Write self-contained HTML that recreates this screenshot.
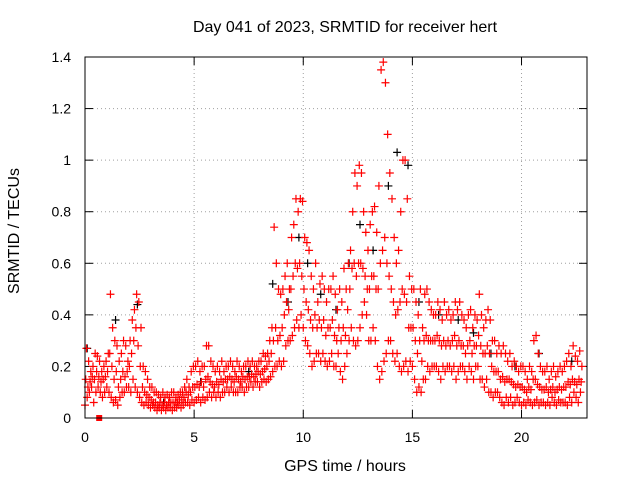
<!DOCTYPE html>
<html><head><meta charset="utf-8">
<style>
body{margin:0;background:#fff;}
svg{display:block;font-family:"Liberation Sans",sans-serif;}
</style></head>
<body>
<svg id="chart" width="640" height="480" viewBox="0 0 640 480" xmlns="http://www.w3.org/2000/svg">
<rect width="640" height="480" fill="#fff"/>
<text x="345" y="32" font-size="16" text-anchor="middle">Day 041 of 2023, SRMTID for receiver hert</text>
<text x="345" y="471" font-size="16" text-anchor="middle">GPS time / hours</text>
<text transform="translate(19,231) rotate(-90)" font-size="16" text-anchor="middle">SRMTID / TECUs</text>
<g id="grid"></g>
<g id="ticks"></g>
<g id="marks"></g>
<rect x="85" y="57" width="502" height="361" fill="none" stroke="#000" stroke-width="1"/>
</svg>
<script>
const xTicks=[0,5,10,15,20];
const yTicks=[0,0.2,0.4,0.6,0.8,1,1.2,1.4];
const yTickLabels=["0","0.2","0.4","0.6","0.8","1","1.2","1.4"];
const binStart=0, binStep=0.1;
const hiVals=[.27,.22,.18,.2,.25,.24,.22,.18,.2,.22,
.25,.48,.35,.3,.28,.22,.25,.3,.28,.22,
.3,.38,.42,.48,.45,.35,.2,.18,.15,.12,
.12,.1,.1,.09,.08,.1,.08,.09,.08,.1,
.1,.08,.09,.1,.1,.12,.15,.12,.18,.2,
.2,.22,.18,.2,.2,.28,.28,.22,.2,.18,
.2,.18,.22,.18,.2,.2,.22,.2,.18,.22,
.2,.18,.2,.2,.22,.2,.22,.2,.2,.22,
.22,.25,.24,.25,.3,.35,.74,.6,.5,.48,
.5,.55,.6,.5,.7,.75,.85,.8,.85,.84,
.7,.68,.65,.55,.5,.6,.45,.52,.55,.5,
.45,.5,.5,.55,.48,.42,.5,.45,.58,.5,
.6,.65,.8,.95,.9,.98,.95,.8,.72,.65,
.75,.8,.82,.72,.9,1.35,1.38,1.3,1.1,.95,
.85,.7,.6,.65,.8,1.0,1.0,.85,.55,.5,
.5,.45,.4,.5,.35,.48,.5,.45,.42,.4,
.4,.45,.42,.38,.45,.4,.42,.38,.4,.45,
.42,.45,.4,.38,.35,.4,.42,.35,.4,.38,
.48,.4,.35,.38,.42,.38,.3,.3,.25,.28,
.25,.28,.25,.22,.25,.2,.22,.2,.18,.2,
.2,.18,.15,.2,.18,.3,.32,.25,.2,.18,
.18,.2,.15,.18,.2,.16,.18,.2,.18,.2,
.22,.25,.2,.28,.24,.22,.26,.2];
const midVals=[.15,.12,.14,.16,.15,.18,.16,.14,.15,.16,
.18,.25,.2,.15,.18,.12,.15,.18,.16,.18,
.2,.25,.3,.35,.28,.2,.12,.1,.09,.08,
.07,.06,.06,.05,.06,.05,.06,.05,.06,.06,
.06,.06,.06,.07,.07,.08,.1,.09,.1,.12,
.12,.13,.12,.14,.12,.15,.16,.14,.13,.12,
.14,.13,.15,.14,.15,.15,.16,.15,.14,.16,
.15,.14,.16,.15,.16,.16,.17,.16,.17,.18,
.17,.18,.19,.2,.22,.25,.3,.35,.3,.32,
.35,.4,.45,.42,.5,.55,.6,.58,.6,.55,
.5,.45,.42,.38,.35,.4,.35,.38,.35,.38,
.32,.35,.35,.38,.32,.3,.35,.3,.35,.32,
.42,.5,.58,.6,.55,.6,.6,.58,.55,.5,
.5,.55,.55,.5,.5,.6,.65,.7,.6,.55,
.5,.45,.4,.42,.45,.5,.48,.45,.35,.35,
.35,.3,.25,.3,.22,.3,.32,.3,.3,.3,
.3,.32,.3,.28,.3,.28,.3,.28,.3,.32,
.28,.3,.28,.28,.25,.28,.3,.25,.28,.28,
.32,.28,.25,.25,.28,.25,.2,.18,.18,.18,
.15,.16,.14,.15,.15,.14,.13,.12,.13,.12,
.12,.11,.1,.12,.11,.15,.15,.13,.12,.11,
.11,.12,.1,.11,.12,.1,.11,.12,.11,.12,
.12,.14,.13,.15,.14,.13,.15,.14];
const loVals=[.05,.08,.1,.12,.06,.1,.12,.1,.08,.1,
.12,.1,.08,.06,.07,.05,.08,.1,.1,.12,
.12,.1,.15,.12,.1,.08,.06,.05,.06,.05,
.04,.05,.04,.03,.04,.03,.04,.03,.04,.04,
.03,.04,.04,.05,.04,.05,.06,.06,.05,.07,
.06,.07,.08,.06,.08,.07,.08,.1,.08,.1,
.08,.1,.08,.1,.1,.12,.1,.12,.1,.1,
.1,.12,.12,.1,.12,.12,.14,.12,.14,.14,
.12,.14,.15,.14,.15,.16,.18,.2,.2,.22,
.2,.22,.28,.3,.3,.32,.35,.38,.35,.4,
.35,.3,.28,.25,.2,.22,.25,.25,.22,.25,
.22,.2,.22,.25,.2,.2,.25,.18,.15,.2,
.25,.3,.35,.3,.28,.3,.35,.4,.45,.4,
.3,.3,.35,.3,.2,.15,.18,.22,.25,.3,
.3,.25,.22,.25,.2,.18,.2,.22,.18,.22,
.2,.15,.1,.12,.1,.15,.15,.2,.18,.2,
.2,.2,.18,.15,.2,.18,.2,.2,.18,.2,
.15,.18,.2,.2,.18,.15,.2,.18,.15,.2,
.2,.15,.15,.12,.15,.1,.1,.08,.1,.1,
.08,.06,.05,.08,.06,.08,.05,.06,.08,.06,
.05,.06,.05,.07,.06,.05,.06,.07,.05,.06,
.06,.05,.06,.05,.08,.06,.05,.07,.06,.06,
.06,.05,.08,.06,.1,.08,.06,.1];
const blackTimes=[0.1,1.4,2.4,8.6,9.3,9.8,10.2,10.8,11.5,12.1,12.6,13.2,13.9,14.3,14.8,15.3,16.2,17.1,17.8,18.6,19.7,20.8,22.3,5.3,7.5,3.6];
const blackVals=[0.27,0.38,0.44,0.52,0.45,0.7,0.6,0.48,0.42,0.6,0.75,0.65,0.9,1.03,0.98,0.45,0.4,0.38,0.33,0.25,0.2,0.25,0.22,0.14,0.18,0.06];
const squareTimes=[0.65];
const squareVals=[0];

const X0=85,X1=587,Y0=418,Y1=57,XMAX=23,YMAX=1.4;
const xs=t=>X0+(t/XMAX)*(X1-X0);
const ys=v=>Y0-(v/YMAX)*(Y0-Y1);
const NS="http://www.w3.org/2000/svg";
const grid=document.getElementById('grid'),ticks=document.getElementById('ticks'),marks=document.getElementById('marks');
function mk(tag,parent){const e=document.createElementNS(NS,tag);parent.appendChild(e);return e;}

yTicks.forEach((v,i)=>{
  const y=ys(v);
  if(i>0&&i<yTicks.length-1){const g=mk('line',grid);
    
    
    g.setAttribute('x1',X0);g.setAttribute('x2',X1);g.setAttribute('y1',y);g.setAttribute('y2',y);
    g.setAttribute('stroke','#a0a0a0');g.setAttribute('stroke-dasharray','1,3');}
  const t=mk('line',ticks);
  
  
  t.setAttribute('x1',X0);t.setAttribute('x2',X0+8);t.setAttribute('y1',y);t.setAttribute('y2',y);t.setAttribute('stroke','#000');
  const t2=mk('line',ticks);
  
  
  t2.setAttribute('x1',X1-8);t2.setAttribute('x2',X1);t2.setAttribute('y1',y);t2.setAttribute('y2',y);t2.setAttribute('stroke','#000');
  const l=mk('text',ticks);
  
  
  l.setAttribute('x',X0-14);l.setAttribute('y',y+5);l.setAttribute('text-anchor','end');l.setAttribute('font-size','14');
  l.textContent=yTickLabels[i];
});
xTicks.forEach(v=>{
  const x=xs(v);
  if(v>0){const g=mk('line',grid);
    
    
    g.setAttribute('x1',x);g.setAttribute('x2',x);g.setAttribute('y1',Y1);g.setAttribute('y2',Y0);
    g.setAttribute('stroke','#a0a0a0');g.setAttribute('stroke-dasharray','1,3');}
  const t=mk('line',ticks);
  
  
  t.setAttribute('x1',x);t.setAttribute('x2',x);t.setAttribute('y1',Y0);t.setAttribute('y2',Y0-8);t.setAttribute('stroke','#000');
  const t2=mk('line',ticks);
  
  
  t2.setAttribute('x1',x);t2.setAttribute('x2',x);t2.setAttribute('y1',Y1);t2.setAttribute('y2',Y1+8);t2.setAttribute('stroke','#000');
  const l=mk('text',ticks);
  
  
  l.setAttribute('x',x);l.setAttribute('y',Y0+24);l.setAttribute('text-anchor','middle');l.setAttribute('font-size','14');
  l.textContent=String(v);
});
function plus(t,v,color,name){
  const x=xs(t),y=ys(v);
  const p=mk('path',marks);
  
  
  p.setAttribute('d',`M${x-4} ${y}H${x+4}M${x} ${y-4}V${y+4}`);
  p.setAttribute('stroke',color);p.setAttribute('stroke-width','1.2');p.setAttribute('fill','none');
}
blackTimes.forEach((t,i)=>plus(t,blackVals[i],'#000','point-black'));
[[loVals,0],[midVals,0.033],[hiVals,0.066]].forEach(([arr,off])=>{
  arr.forEach((v,i)=>plus(binStart+i*binStep+off,v,'#f00','point-red'));
});
squareTimes.forEach((t,i)=>{
  const r=mk('rect',marks);
  
  
  r.setAttribute('x',xs(t)-3);r.setAttribute('y',ys(squareVals[i])-3);r.setAttribute('width',6);r.setAttribute('height',6);r.setAttribute('fill','#f00');
});
</script>
</body></html>
